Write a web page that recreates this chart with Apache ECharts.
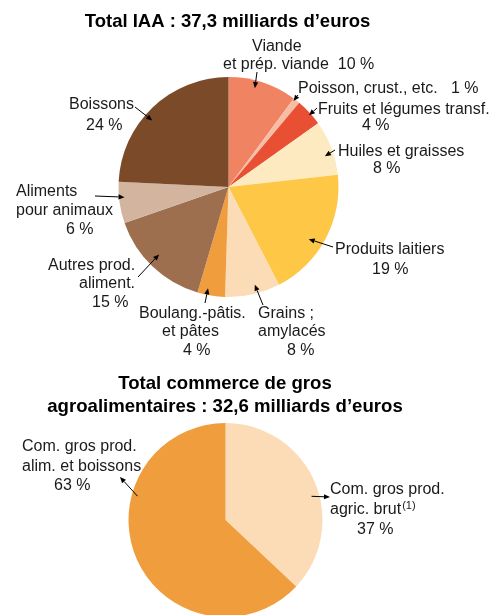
<!DOCTYPE html>
<html>
<head>
<meta charset="utf-8">
<script src="https://cdn.jsdelivr.net/npm/echarts@6/dist/echarts.min.js"></script>
<style>
  html, body { margin: 0; padding: 0; background: #fff; }
  #chart { width: 490px; height: 615px; }
</style>
</head>
<body>
<div id="chart"></div>
<script>
// données : IAA
var iaaNames = ['Viande\net prép. viande', 'Poisson, crust., etc.', 'Fruits et légumes transf.', 'Huiles et graisses',
  'Produits laitiers', 'Grains ;\namylacés', 'Boulang.-pâtis.\net pâtes', 'Autres prod.\naliment.',
  'Aliments\npour animaux', 'Boissons'];
var iaaValues = [10, 1, 4, 8, 19, 8, 4, 15, 6, 24];
// données : commerce de gros
var gcNames = ['Com. gros prod.\nagric. brut(1)', 'Com. gros prod.\nalim. et boissons'];
var gcValues = [37, 63];

var iaaColors = ['#f08362', '#f7bea6', '#e84f33', '#feeac0', '#fec745', '#fcdbb7', '#f09d3e', '#9e6f4f', '#d2b49f', '#7b4a29'];
var gcColors = ['#fcdbb7', '#f09d3e'];

// placement des étiquettes : [gauche, haut, interligne, décalage de chaque ligne, séparateur si valeur sur la même ligne]
var iaaLabelPos = [
  [223, 38, 18, [29, 0], '  '],
  [298, 80, 18, [0], '   '],
  [318, 102, 16, [0, 44]],
  [338, 143.5, 17, [0, 35]],
  [335, 240, 20, [0, 37]],
  [258, 304, 18.5, [0, 0, 29]],
  [139, 304, 18.5, [0, 23, 44]],
  [48, 256, 18.5, [0, 31, 44]],
  [16, 182.5, 19, [0, 0, 50]],
  [69, 94.5, 21, [0, 17]]
];
var gcLabelPos = [
  [330, 480, 20, [0, 0, 27]],
  [22, 437, 19.5, [0, 0, 32]]
];
// flèches : [x, y du bout libre, position dans la part (0-1), rayon relatif]
var iaaArrows = [
  [257, 72, 0.41, 0.93], [298, 95, 0.2, 0.98], [317, 108, 0.57, 0.98], [335, 150, 0.61, 0.92],
  [333, 247, 0.57, 0.87], [263, 305, 0.42, 0.92], [205, 303, 0.66, 0.94], [138, 277, 0.54, 0.88],
  [95, 196, 0.62, 0.95], [135, 107, 0.44, 0.92]
];
var gcArrows = [[330, 497, 0.56, 0.92], [120, 477, 0.67, 0.94]];

var textColor = '#1a1a1a';
var fontFamily = '"Liberation Sans", Arial, sans-serif';

function buildItems(names, values, colors, pos) {
  return names.map(function (name, i) {
    var p = pos[i];
    var lines = name.split('\n');
    var valueText = values[i] + ' %';
    if (p[4]) lines[lines.length - 1] += p[4] + valueText;
    else lines.push(valueText);
    var rich = {};
    var parts = lines.map(function (line, j) {
      var key = 's' + j;
      rich[key] = { fontSize: 16, lineHeight: p[2], color: textColor, fontFamily: fontFamily, padding: [0, 0, 0, p[3][j] || 0] };
      if (line.indexOf('(1)') >= 0) {
        rich.sup = { fontSize: 11, lineHeight: p[2], color: textColor, fontFamily: fontFamily, verticalAlign: 'top', padding: [0, 0, 0, 1] };
        return '{' + key + '|' + line.replace('(1)', '') + '}{sup|(1)}';
      }
      return '{' + key + '|' + line + '}';
    });
    return {
      name: name,
      value: values[i],
      itemStyle: { color: colors[i] },
      label: { formatter: parts.join('\n'), rich: rich }
    };
  });
}

function pieSeries(items, center, radius, pos) {
  return {
    type: 'pie',
    center: center,
    radius: radius,
    startAngle: 90,
    clockwise: true,
    silent: true,
    avoidLabelOverlap: false,
    data: items,
    itemStyle: { borderWidth: 0 },
    label: { show: true, position: 'outside' },
    labelLine: { show: false },
    labelLayout: function (params) {
      var p = pos[params.dataIndex];
      return { x: p[0], y: p[1], align: 'left', verticalAlign: 'top' };
    }
  };
}

var chart = echarts.init(document.getElementById('chart'), null, { renderer: 'canvas' });
var option = {
  backgroundColor: '#fff',
  title: [{
    text: 'Total IAA : 37,3 milliards d’euros',
    left: 222.5, top: 7, textAlign: 'center',
    textStyle: { fontSize: 18.5, fontWeight: 'bold', color: '#000', fontFamily: fontFamily }
  }, {
    text: 'Total commerce de gros\nagroalimentaires : 32,6 milliards d’euros',
    left: 220, top: 367, textAlign: 'center',
    textStyle: { fontSize: 18.6, fontWeight: 'bold', color: '#000', fontFamily: fontFamily, lineHeight: 23 }
  }],
  series: [
    pieSeries(buildItems(iaaNames, iaaValues, iaaColors, iaaLabelPos), [228.5, 187], 110, iaaLabelPos),
    pieSeries(buildItems(gcNames, gcValues, gcColors, gcLabelPos), [225.5, 520], 97, gcLabelPos)
  ]
};
chart.setOption(option);

// flèches calculées à partir de la géométrie des parts
function arrowShapes(from, to) {
  var dx = to[0] - from[0], dy = to[1] - from[1];
  var len = Math.sqrt(dx * dx + dy * dy);
  var ux = dx / len, uy = dy / len, hl = 6, hw = 2.6;
  var bx = to[0] - ux * hl, by = to[1] - uy * hl;
  return [{
    type: 'line', silent: true, z: 100,
    shape: { x1: from[0], y1: from[1], x2: bx, y2: by },
    style: { stroke: '#000', lineWidth: 1 }
  }, {
    type: 'polygon', silent: true, z: 100,
    shape: { points: [to, [bx - uy * hw, by + ux * hw], [bx + uy * hw, by - ux * hw]] },
    style: { fill: '#000' }
  }];
}

function anchorPoint(layout, t, k) {
  var a = layout.startAngle + t * (layout.endAngle - layout.startAngle);
  return [layout.cx + k * layout.r * Math.cos(a), layout.cy + k * layout.r * Math.sin(a)];
}

var graphics = [];
var iaaData = chart.getModel().getSeriesByIndex(0).getData();
iaaArrows.forEach(function (a, i) {
  var tip = anchorPoint(iaaData.getItemLayout(i), a[2], a[3]);
  graphics = graphics.concat(arrowShapes([a[0], a[1]], tip));
});
var gcData = chart.getModel().getSeriesByIndex(1).getData();
gcArrows.forEach(function (a, i) {
  var start = anchorPoint(gcData.getItemLayout(i), a[2], a[3]);
  graphics = graphics.concat(arrowShapes(start, [a[0], a[1]]));
});
chart.setOption({ graphic: graphics });
</script>
</body>
</html>
